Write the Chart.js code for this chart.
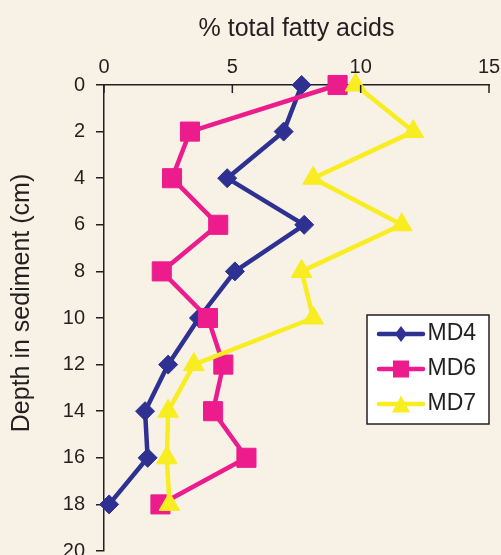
<!DOCTYPE html>
<html>
<head>
<meta charset="utf-8">
<script src="https://cdn.jsdelivr.net/npm/chart.js@4.4.1/dist/chart.umd.min.js"></script>
<style>
  html, body { margin: 0; padding: 0; background: #f8f2e6; }
  #wrap { width: 501px; height: 555px; }
</style>
</head>
<body>
<div id="wrap"><canvas id="depthChart" width="501" height="555"></canvas></div>
<script>
// depth (cm) and % of total fatty acids per core
const depths = [0, 2, 4, 6, 8, 10, 12, 14, 16, 18];
const md4 = [7.7, 7.0, 4.8, 7.8, 5.1, 3.7, 2.5, 1.6, 1.7, 0.2];
const md6 = [9.1, 3.35, 2.65, 4.45, 2.25, 4.05, 4.65, 4.25, 5.55, 2.2];
const md7 = [9.8, 12.05, 8.15, 11.6, 7.7, 8.15, 3.5, 2.5, 2.45, 2.55];
const seriesNames = ['MD4', 'MD6', 'MD7'];

const xTicks = [0, 5, 10, 15];
const yTicks = [0, 2, 4, 6, 8, 10, 12, 14, 16, 18, 20];

const navy = '#2e3192';
const pink = '#ec1c8c';
const yellow = '#f8ec22';
const ink = '#231f20';
const font = '"Liberation Sans", Arial, sans-serif';

function toPoints(values) {
  return values.map((v, i) => ({x: v, y: depths[i]}));
}

// little line+marker icons for the legend
function legendIcon(color, shape) {
  const c = document.createElement('canvas');
  c.width = 50; c.height = 24;
  const g = c.getContext('2d');
  g.strokeStyle = color;
  g.lineWidth = 4.5;
  g.lineCap = 'round';
  g.beginPath(); g.moveTo(3, 12); g.lineTo(47, 12); g.stroke();
  g.fillStyle = color;
  g.beginPath();
  if (shape === 'diamond') {
    g.moveTo(25, 4); g.lineTo(31, 12); g.lineTo(25, 20); g.lineTo(19, 12);
  } else if (shape === 'square') {
    g.rect(17, 3.5, 16, 17);
  } else {
    g.moveTo(25, 3.5); g.lineTo(34, 20.5); g.lineTo(16, 20.5);
  }
  g.closePath(); g.fill();
  return c;
}
const legendIcons = [legendIcon(navy, 'diamond'), legendIcon(pink, 'square'), legendIcon(yellow, 'triangle')];

const legendBox = {left: 367, top: 315, width: 122, height: 109};

const decor = {
  id: 'decor',
  beforeDraw(chart) {
    const ctx = chart.ctx;
    // legend frame
    ctx.save();
    ctx.fillStyle = '#ffffff';
    ctx.strokeStyle = ink;
    ctx.lineWidth = 1.5;
    ctx.fillRect(legendBox.left, legendBox.top, legendBox.width, legendBox.height);
    ctx.strokeRect(legendBox.left, legendBox.top, legendBox.width, legendBox.height);
    ctx.restore();
    // place the legend inside the frame
    const lg = chart.legend;
    lg.left = legendBox.left + 7;
    lg.top = legendBox.top - 4.5;
    lg.right = legendBox.left + legendBox.width;
    lg.bottom = legendBox.top + legendBox.height + 20;
    lg.width = lg.right - lg.left;
    lg.height = lg.bottom - lg.top;
    // y axis title
    ctx.save();
    ctx.fillStyle = ink;
    ctx.font = '25px ' + font;
    ctx.textAlign = 'center';
    ctx.textBaseline = 'middle';
    ctx.translate(22, 303);
    ctx.rotate(-Math.PI / 2);
    ctx.fillText('Depth in sediment (cm)', 0, 0);
    ctx.restore();
  },
  afterDraw(chart) {
    // x ticks point down into the plot
    const ctx = chart.ctx;
    const xs = chart.scales.x;
    ctx.save();
    ctx.strokeStyle = ink;
    ctx.lineWidth = 1.5;
    xs.ticks.forEach(t => {
      const px = xs.getPixelForValue(t.value);
      ctx.beginPath();
      ctx.moveTo(px, xs.bottom);
      ctx.lineTo(px, xs.bottom + 8);
      ctx.stroke();
    });
    ctx.restore();
  }
};

const datasets = [
  {label: seriesNames[0], data: toPoints(md4), borderColor: navy, backgroundColor: navy,
   pointStyle: 'rectRot', pointRadius: 9.5, order: 2},
  {label: seriesNames[1], data: toPoints(md6), borderColor: pink, backgroundColor: pink,
   pointStyle: 'rect', pointRadius: 13.5, order: 1},
  {label: seriesNames[2], data: toPoints(md7), borderColor: yellow, backgroundColor: yellow,
   pointStyle: 'triangle', pointRadius: 12, order: 0}
].map(d => Object.assign(d, {
  borderWidth: 4.5, borderJoinStyle: 'round', pointBorderWidth: 1,
  pointBorderColor: d.borderColor, pointBackgroundColor: d.backgroundColor,
  tension: 0, clip: false
}));

new Chart(document.getElementById('depthChart'), {
  type: 'line',
  data: {datasets: datasets},
  options: {
    responsive: false,
    animation: false,
    layout: {autoPadding: false, padding: {left: 0, right: 12, top: 0, bottom: 4}},
    plugins: {
      tooltip: {enabled: false},
      legend: {
        position: 'chartArea',
        align: 'start',
        labels: {
          usePointStyle: true,
          pointStyleWidth: 30,
          padding: 12,
          color: ink,
          font: {family: font, size: 23},
          generateLabels: (chart) => chart.data.datasets.map((ds, i) => ({
            text: ds.label, pointStyle: legendIcons[i], datasetIndex: i, hidden: false,
            fillStyle: ds.backgroundColor, strokeStyle: ds.borderColor, lineWidth: 0, fontColor: ink
          }))
        }
      }
    },
    scales: {
      x: {
        type: 'linear', position: 'top', min: 0, max: 15,
        afterBuildTicks: (s) => { s.ticks = xTicks.map(v => ({value: v})); },
        afterFit: (s) => { s.height = 85; s.paddingLeft = 0; s.paddingRight = 0; },
        grid: {drawOnChartArea: false, drawTicks: false},
        border: {display: true, color: ink, width: 1.5},
        ticks: {color: ink, font: {family: font, size: 20}, padding: 6, maxRotation: 0},
        title: {display: true, text: '% total fatty acids', color: ink,
                font: {family: font, size: 25}, padding: {top: 14, bottom: 0}}
      },
      y: {
        type: 'linear', reverse: true, min: 0, max: 20,
        afterBuildTicks: (s) => { s.ticks = yTicks.map(v => ({value: v})); },
        afterFit: (s) => { s.width = 104; s.paddingTop = 0; s.paddingBottom = 0; },
        grid: {drawOnChartArea: false, drawTicks: true, tickLength: 8, color: ink, lineWidth: 1.5},
        border: {display: true, color: ink, width: 1.5},
        ticks: {color: ink, font: {family: font, size: 20}, padding: 11}
      }
    }
  },
  plugins: [decor]
});
</script>
</body>
</html>
